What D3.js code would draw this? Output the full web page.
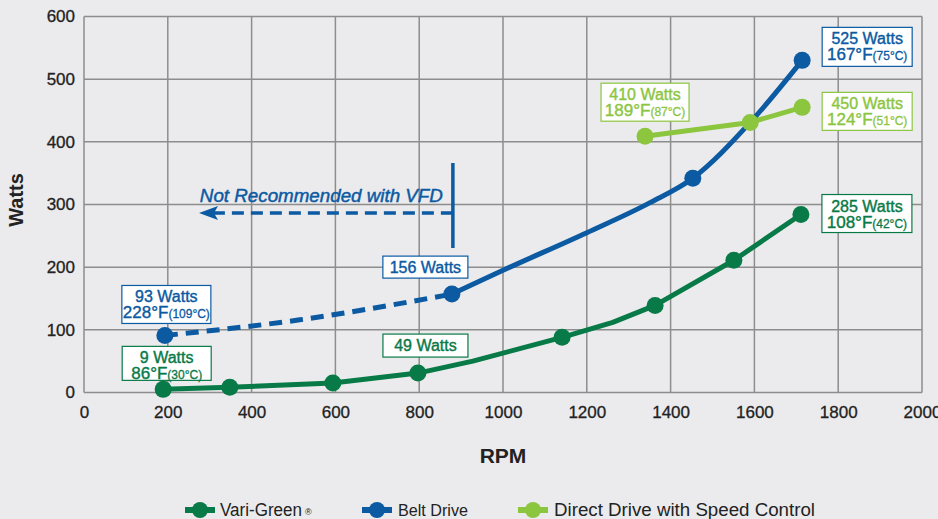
<!DOCTYPE html>
<html>
<head>
<meta charset="utf-8">
<script src="https://cdn.jsdelivr.net/npm/d3@7"></script>
<style>
  html, body { margin: 0; padding: 0; background: #ebebed; }
  svg { display: block; font-family: "Liberation Sans", Arial, Helvetica, sans-serif; }
</style>
</head>
<body>
<svg id="chart" width="938" height="519"></svg>
<script>
// ---------- data ----------
const xTicks = [0, 200, 400, 600, 800, 1000, 1200, 1400, 1600, 1800, 2000];
const yTicks = [0, 100, 200, 300, 400, 500, 600];

// marker points
const variGreenRpm   = [189, 348, 594, 797, 1141, 1363, 1551, 1711];
const variGreenWatts = [5, 8.5, 15, 31, 88, 139, 211, 284];
// line vertices (markers plus bends)
const variGreenLineRpm   = [189, 348, 594, 797, 928, 1141, 1262, 1363, 1551, 1711];
const variGreenLineWatts = [5, 8.5, 15, 31, 50, 88, 112, 139, 211, 284];

const beltDashRpm    = [193, 515, 878];
const beltDashWatts  = [91, 116, 157];
const beltRpm        = [878, 1453, 1714];
const beltWatts      = [157, 342, 530];
const beltLineRpm    = [878, 1000, 1200, 1351, 1453, 1590, 1714];
const beltLineWatts  = [157, 195, 255, 303, 342, 431, 530];

const directRpm      = [1339, 1590, 1714];
const directWatts    = [409, 431, 455];

const seriesNames  = ["Vari-Green", "Belt Drive", "Direct Drive with Speed Control"];
const seriesColors = ["#087a47", "#0b5aa2", "#8cc63f"];

// ---------- layout ----------
const svg = d3.select("#chart");
const x = d3.scaleLinear().domain([0, 2000]).range([84, 922]);
const y = d3.scaleLinear().domain([0, 600]).range([392.5, 16.5]);
const gridColor = "#8d8d8d";

// grid
svg.append("g").selectAll("line").data(xTicks).join("line")
  .attr("x1", d => x(d)).attr("x2", d => x(d))
  .attr("y1", y(0)).attr("y2", y(600))
  .attr("stroke", gridColor).attr("stroke-width", 1.5);
svg.append("g").selectAll("line").data(yTicks).join("line")
  .attr("x1", x(0)).attr("x2", x(2000))
  .attr("y1", d => y(d)).attr("y2", d => y(d))
  .attr("stroke", gridColor).attr("stroke-width", 1.5);

// axes labels
const yAxis = svg.append("g").attr("transform", `translate(${x(0) - 9},0)`)
  .call(d3.axisLeft(y).tickValues(yTicks).tickSize(0).tickPadding(0));
yAxis.select(".domain").remove();
yAxis.selectAll("text").attr("font-size", 17).attr("fill", "#222")
  .attr("stroke", "#222").attr("stroke-width", 0.3)
  .attr("font-family", "Liberation Sans, Arial, sans-serif");

const xAxis = svg.append("g").attr("transform", `translate(0,${y(0) + 13})`)
  .call(d3.axisBottom(x).tickValues(xTicks).tickSize(0).tickPadding(0).tickFormat(d3.format("d")));
xAxis.select(".domain").remove();
xAxis.selectAll("text").attr("font-size", 17).attr("fill", "#222")
  .attr("stroke", "#222").attr("stroke-width", 0.3)
  .attr("font-family", "Liberation Sans, Arial, sans-serif");

svg.append("text").attr("x", 503).attr("y", 463).attr("text-anchor", "middle")
  .attr("font-size", 21).attr("font-weight", "bold").attr("fill", "#222").text("RPM");
svg.append("text").attr("transform", "translate(23,200) rotate(-90)").attr("text-anchor", "middle")
  .attr("font-size", 20).attr("font-weight", "bold").attr("fill", "#222").text("Watts");

// ---------- lines ----------
const curve = d3.line().x(d => x(d[0])).y(d => y(d[1])).curve(d3.curveMonotoneX);
const straight = d3.line().x(d => x(d[0])).y(d => y(d[1]));
const zip = (a, b) => a.map((v, i) => [v, b[i]]);

const vg = zip(variGreenRpm, variGreenWatts);
const vgLine = zip(variGreenLineRpm, variGreenLineWatts);
const bd = zip(beltDashRpm, beltDashWatts);
const bs = zip(beltRpm, beltWatts);
const bsLine = zip(beltLineRpm, beltLineWatts);
const dd = zip(directRpm, directWatts);

svg.append("path").datum(vgLine).attr("d", straight).attr("fill", "none")
  .attr("stroke", seriesColors[0]).attr("stroke-width", 5).attr("stroke-linejoin", "round");
svg.append("path").datum(bd).attr("d", curve).attr("fill", "none")
  .attr("stroke", seriesColors[1]).attr("stroke-width", 5).attr("stroke-dasharray", "13 8");
svg.append("path").datum(bsLine).attr("d", curve).attr("fill", "none")
  .attr("stroke", seriesColors[1]).attr("stroke-width", 5);
svg.append("path").datum(dd).attr("d", straight).attr("fill", "none")
  .attr("stroke", seriesColors[2]).attr("stroke-width", 5).attr("stroke-linejoin", "round");

function dots(data, color) {
  svg.append("g").selectAll("circle").data(data).join("circle")
    .attr("cx", d => x(d[0])).attr("cy", d => y(d[1])).attr("r", 8.5).attr("fill", color);
}
dots(vg, seriesColors[0]);
dots([bd[0], ...bs], seriesColors[1]);
dots(dd, seriesColors[2]);

// ---------- "Not Recommended" annotation ----------
const vx = x(beltRpm[0]) + 1;
svg.append("line").attr("x1", vx).attr("x2", vx).attr("y1", 163).attr("y2", 248)
  .attr("stroke", seriesColors[1]).attr("stroke-width", 3.5);
svg.append("line").attr("x1", vx).attr("x2", 212).attr("y1", 213).attr("y2", 213)
  .attr("stroke", seriesColors[1]).attr("stroke-width", 3.5).attr("stroke-dasharray", "12 7");
svg.append("path").attr("d", `M199,213 L218,206 L214,213 L218,220 Z`).attr("fill", seriesColors[1]);
svg.append("text").attr("x", vx - 10).attr("y", 202).attr("text-anchor", "end")
  .attr("font-size", 18).attr("font-style", "italic").attr("fill", seriesColors[1])
  .attr("stroke", seriesColors[1]).attr("stroke-width", 0.45)
  .attr("textLength", 243).attr("lengthAdjust", "spacingAndGlyphs")
  .text("Not Recommended with VFD");

// ---------- value labels ----------
// [series, point, line1, F, C, box dx (left from point), box dy (top from point), width, height]
const labels = [
  [1, bd[0], "93 Watts", "228°F", "(109°C)", -43, -50, 89, 38],
  [0, vg[0], "9 Watts", "86°F", "(30°C)", -41, -43, 89, 34],
  [1, bs[0], "156 Watts", null, null, -69, -38, 85, 22],
  [0, vg[3], "49 Watts", null, null, -35, -39, 85, 23],
  [1, bs[2], "525 Watts", "167°F", "(75°C)", 20, -33, 90, 39],
  [2, dd[0], "410 Watts", "189°F", "(87°C)", -44, -53, 88, 38],
  [2, dd[2], "450 Watts", "124°F", "(51°C)", 20, -15, 90, 38],
  [0, vg[7], "285 Watts", "108°F", "(42°C)", 21, -20, 90, 38]
];
labels.forEach(([s, p, l1, f, c, dx, dy, w, h]) => {
  const bx = x(p[0]) + dx, by = y(p[1]) + dy;
  const col = seriesColors[s];
  const g = svg.append("g");
  g.append("rect").attr("x", bx).attr("y", by).attr("width", w).attr("height", h)
    .attr("fill", "#ffffff").attr("stroke", col).attr("stroke-width", 1.2);
  g.append("text").attr("x", bx + w / 2).attr("y", by + 17).attr("text-anchor", "middle")
    .attr("font-size", 16).attr("fill", col).attr("stroke", col).attr("stroke-width", 0.4).text(l1);
  if (f) {
    const t = g.append("text").attr("x", bx + w / 2).attr("y", by + 33).attr("text-anchor", "middle")
      .attr("fill", col).attr("stroke", col).attr("stroke-width", 0.4);
    t.append("tspan").attr("font-size", 17).text(f);
    t.append("tspan").attr("font-size", 12).attr("stroke-width", 0.3).text(c);
  }
});

// ---------- legend ----------
const legendItems = [
  { name: seriesNames[0], sx: 185, tx: 220, len: 82, fs: 18, sup: "®" },
  { name: seriesNames[1], sx: 362, tx: 398, len: 70, fs: 16 },
  { name: seriesNames[2], sx: 518, tx: 554, len: 261, fs: 18 }
];
legendItems.forEach((it, i) => {
  const g = svg.append("g");
  g.append("line").attr("x1", it.sx).attr("x2", it.sx + 30).attr("y1", 510).attr("y2", 510)
    .attr("stroke", seriesColors[i]).attr("stroke-width", 6);
  g.append("circle").attr("cx", it.sx + 15).attr("cy", 510).attr("r", 8).attr("fill", seriesColors[i]);
  g.append("text").attr("x", it.tx).attr("y", 516).attr("font-size", it.fs).attr("fill", "#222")
    .attr("textLength", it.len).attr("lengthAdjust", "spacingAndGlyphs").text(it.name);
  if (it.sup) {
    g.append("text").attr("x", it.tx + it.len + 3).attr("y", 515).attr("font-size", 9)
      .attr("fill", "#222").text(it.sup);
  }
});
</script>
</body>
</html>
